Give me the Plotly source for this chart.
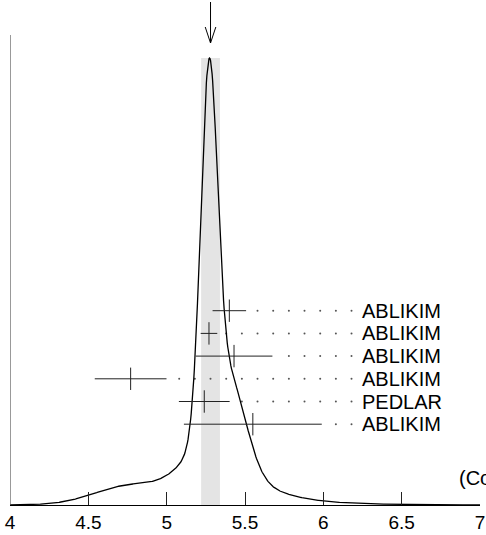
import numpy as np
import plotly.graph_objects as go

# Measurements (value, error, author), top row first
values = [5.40, 5.27, 5.43, 4.77, 5.24, 5.55]
errors = [0.107, 0.053, 0.245, 0.229, 0.162, 0.44]
authors = ["ABLIKIM", "ABLIKIM", "ABLIKIM", "ABLIKIM", "PEDLAR", "ABLIKIM"]
avg_value = 5.28
avg_error = 0.06
x_ticks = [4, 4.5, 5, 5.5, 6, 6.5, 7]
x_tick_text = ["4", "4.5", "5", "5.5", "6", "6.5", "7"]
cl_text = "(Confidence Level = 0.001)"

W, H = 486, 535
TOP, BOT = 0, 30
plot_h = H - TOP - BOT          # 505 px
peak_px = 447                   # peak height in px above baseline
y_max = plot_h / peak_px
px_per_unit = 470 / 3

def ypix(px_from_top):
    return (plot_h - px_from_top) / peak_px

def xpix(px_from_left):
    return 4 + (px_from_left - 10) / px_per_unit

# ideogram curve derived from measurements
xs = np.linspace(4, 7, 901)
v = np.array(values)[:, None]
e = np.array(errors)[:, None]
curve = (np.exp(-(xs - v) ** 2 / (2 * e ** 2)) / e ** 2).sum(axis=0)
curve = curve / curve.max()

n = len(values)
row_y = [ypix(310.7 + 22.7 * i) for i in range(n)]
label_x = xpix(360)
dot_last = 6.18

fig = go.Figure()

# shaded average band
fig.add_shape(type="rect", x0=avg_value - avg_error, x1=avg_value + avg_error,
              y0=0, y1=1.0, xref="x", yref="y", fillcolor="#e4e4e4",
              line=dict(width=0), layer="below")

# dotted leaders
dx, dy = [], []
for val, err, yy in zip(values, errors, row_y):
    grid = np.round(np.arange(dot_last, 4.0, -0.1), 3)
    for g in grid:
        if g > val + err + 0.05:
            dx.append(g)
            dy.append(yy)
fig.add_trace(go.Scatter(x=dx, y=dy, mode="markers",
                         marker=dict(size=2, color="#555555"),
                         hoverinfo="skip", showlegend=False))

# curve
fig.add_trace(go.Scatter(x=xs, y=curve, mode="lines",
                         line=dict(color="black", width=1.3),
                         hoverinfo="skip", showlegend=False))

# measurements
fig.add_trace(go.Scatter(
    x=values, y=row_y, mode="markers",
    marker=dict(symbol="line-ns-open", size=16, color="#222222",
                line=dict(width=1, color="#222222")),
    error_x=dict(type="data", array=errors, visible=True, width=0,
                 thickness=1, color="#222222"),
    hoverinfo="skip", showlegend=False))

for a, yy in zip(authors, row_y):
    fig.add_annotation(x=label_x, y=yy, text=a, showarrow=False,
                       xanchor="left", yanchor="middle",
                       font=dict(size=20, color="black"))

fig.add_annotation(x=xpix(457), y=ypix(478), text=cl_text,
                   showarrow=False, xanchor="left", yanchor="middle",
                   font=dict(size=20, color="black"))

# left axis line (partial height)
fig.add_shape(type="line", x0=4, x1=4, y0=0, y1=ypix(35), xref="x", yref="y",
              line=dict(color="#555555", width=1.2))

# arrow at average
tip = ypix(43)
fig.add_shape(type="line", x0=avg_value, x1=avg_value, y0=ypix(2), y1=tip,
              xref="x", yref="y", line=dict(color="black", width=1))
for side in (-5.3, 5.3):
    fig.add_shape(type="line", xref="x", yref="y",
                  xsizemode="pixel", xanchor=avg_value, x0=side, x1=0,
                  ysizemode="pixel", yanchor=tip, y0=16, y1=0,
                  line=dict(color="black", width=1))

fig.update_layout(
    width=W, height=H,
    margin=dict(l=10, r=6, t=TOP, b=BOT, autoexpand=False),
    paper_bgcolor="white", plot_bgcolor="white",
    font=dict(family="Liberation Sans, Arial, sans-serif", color="black"),
    xaxis=dict(range=[4, 7], tickvals=x_ticks, ticktext=x_tick_text,
               ticks="inside", ticklen=13, tickcolor="#222222", tickwidth=1,
               showline=True, linecolor="black", linewidth=1.2,
               showgrid=False, zeroline=False, tickfont=dict(size=19),
               automargin=False, fixedrange=True),
    yaxis=dict(range=[0, y_max], visible=False, showgrid=False,
               zeroline=False, fixedrange=True),
)

fig.write_html("out.html", config={"displayModeBar": False},
               post_script="document.body.style.margin='0';document.body.style.overflow='hidden';")
